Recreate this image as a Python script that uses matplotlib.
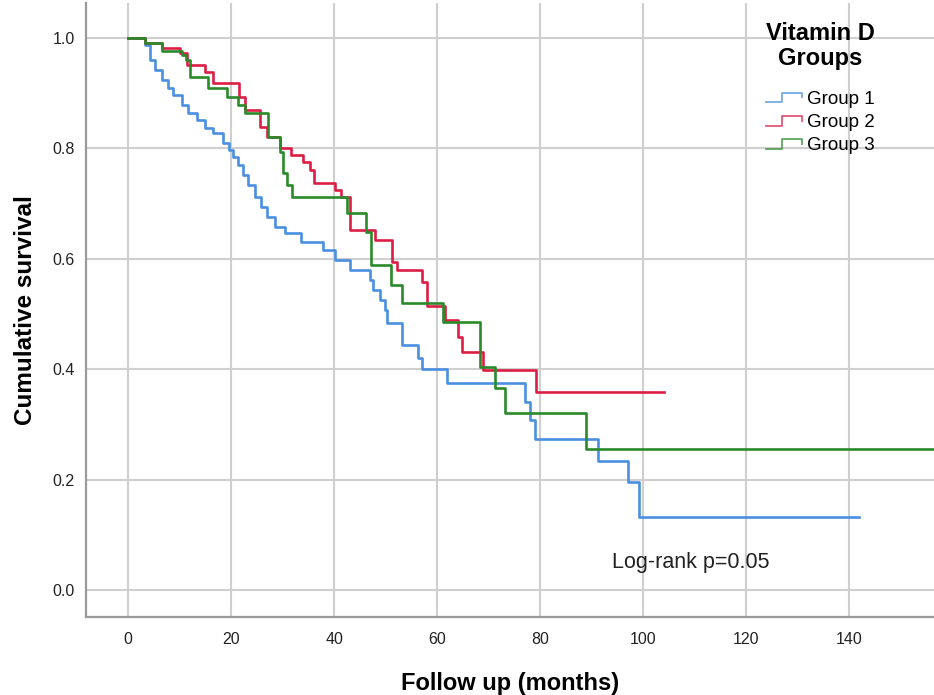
import matplotlib
matplotlib.use("Agg")
import matplotlib.pyplot as plt
from matplotlib.lines import Line2D
from matplotlib.legend_handler import HandlerBase

plt.rcParams['font.family'] = ['Liberation Sans', 'DejaVu Sans']

# Kaplan-Meier steps: time of each drop and survival after it
g1_time = [0, 3.3, 4.3, 5.2, 6.6, 7.8, 8.7, 10.5, 11.6, 13.4, 15.0, 16.5, 18.4, 19.5,
           20.4, 21.3, 22.3, 23.3, 24.7, 25.8, 27.0, 28.5, 30.5, 33.5, 37.9, 40.2,
           43.1, 47.0, 47.6, 48.9, 49.9, 50.3, 53.2, 56.3, 57.1, 61.9, 77.0, 78.0,
           79.0, 91.3, 97.0, 99.2]
g1_surv = [1.0, 0.987, 0.96, 0.942, 0.924, 0.909, 0.897, 0.879, 0.864, 0.851, 0.837,
           0.828, 0.81, 0.797, 0.784, 0.77, 0.752, 0.733, 0.712, 0.694, 0.676, 0.658,
           0.647, 0.63, 0.615, 0.598, 0.58, 0.562, 0.543, 0.525, 0.507, 0.484, 0.444,
           0.42, 0.40, 0.375, 0.34, 0.308, 0.273, 0.234, 0.196, 0.132]
g1_end = 142

g2_time = [0, 3.3, 6.6, 10.1, 11.5, 15.0, 16.5, 21.6, 22.7, 25.6, 27.0, 29.5, 31.6,
           34.0, 35.3, 36.0, 40.2, 41.4, 43.0, 47.9, 51.3, 52.3, 57.1, 58.0, 61.5,
           64.0, 64.9, 68.9, 79.2]
g2_surv = [1.0, 0.991, 0.982, 0.972, 0.951, 0.938, 0.918, 0.893, 0.87, 0.839, 0.82,
           0.80, 0.788, 0.775, 0.761, 0.737, 0.725, 0.712, 0.652, 0.634, 0.594, 0.58,
           0.558, 0.514, 0.489, 0.458, 0.431, 0.399, 0.359]
g2_end = 104

g3_time = [0, 3.3, 6.6, 10.5, 11.3, 12.0, 15.5, 19.2, 21.4, 22.7, 27.2, 29.5, 30.1,
           30.9, 31.8, 42.5, 46.2, 47.2, 51.0, 53.2, 61.2, 68.3, 71.3, 73.2, 89.0]
g3_surv = [1.0, 0.99, 0.976, 0.969, 0.96, 0.929, 0.909, 0.893, 0.879, 0.864, 0.82,
           0.793, 0.755, 0.733, 0.712, 0.683, 0.649, 0.589, 0.553, 0.52, 0.486,
           0.404, 0.366, 0.32, 0.255]
g3_end = 160

labels = ['Group 1', 'Group 2', 'Group 3']
colors = ['#4a8fe0', '#dc1e46', '#2a8a2a']


class StepHandler(HandlerBase):
    # small step icon like the SPSS legend
    def create_artists(self, legend, orig_handle, xdescent, ydescent, width, height,
                       fontsize, trans):
        x0, y0 = -xdescent, -ydescent
        xs = [x0, x0 + 0.45 * width, x0 + 0.45 * width, x0 + width, x0 + width]
        ys = [y0 + 0.1 * height, y0 + 0.1 * height, y0 + 0.85 * height,
              y0 + 0.85 * height, y0 + 0.5 * height]
        ln = Line2D(xs, ys, color=orig_handle.get_color(), lw=1.3, alpha=0.75,
                    transform=trans)
        return [ln]


fig = plt.figure(figsize=(9.34, 6.95), dpi=100)
ax = fig.add_axes([86 / 934, 1 - 617 / 695, 1 - 86 / 934, 614 / 695])

handles = []
for t, s, end, c in zip([g1_time, g2_time, g3_time], [g1_surv, g2_surv, g3_surv],
                        [g1_end, g2_end, g3_end], colors):
    h, = ax.step(t + [end], s + [s[-1]], where='post', color=c, lw=1.9)
    handles.append(h)

ax.set_xlim(-8.2, 156.5)
ax.set_ylim(-0.049, 1.063)
ax.set_xticks(range(0, 141, 20))
ax.set_yticks([0.0, 0.2, 0.4, 0.6, 0.8, 1.0])
ax.set_yticklabels(['0.0', '0.2', '0.4', '0.6', '0.8', '1.0'])
ax.grid(True, color='#cfcfcf', lw=1.5)
ax.set_axisbelow(True)
ax.tick_params(length=0, labelsize=11.5, colors='#222222')
ax.tick_params(axis='x', pad=11)
ax.tick_params(axis='y', pad=8)
for lab in ax.get_xticklabels() + ax.get_yticklabels():
    lab.set_family(['Liberation Sans Narrow', 'Liberation Sans'])
for side in ['top', 'right']:
    ax.spines[side].set_visible(False)
for side in ['left', 'bottom']:
    ax.spines[side].set_color('#9a9a9a')
    ax.spines[side].set_linewidth(1.6)

ax.set_xlabel('Follow up (months)', fontsize=17, fontweight='bold', labelpad=18)
ax.set_ylabel('Cumulative survival', fontsize=17.5, fontweight='bold', labelpad=11)

ax.text(94, 0.05, 'Log-rank p=0.05', fontsize=15.5, color='#222222', va='center')

leg = fig.legend(handles, labels, title='Vitamin D\nGroups', loc='upper left',
                 bbox_to_anchor=(766 / 934, 1 - 22 / 695), frameon=False,
                 fontsize=13.5, handlelength=1.9, handletextpad=0.3,
                 labelspacing=0.33, borderpad=0, borderaxespad=0,
                 title_fontproperties={'weight': 'bold', 'size': 17},
                 handler_map={Line2D: StepHandler()})
leg.get_title().set_multialignment('center')
leg.get_title().set_linespacing(1.1)
leg._legend_box.sep = 15

plt.savefig('out.png', dpi=100)
